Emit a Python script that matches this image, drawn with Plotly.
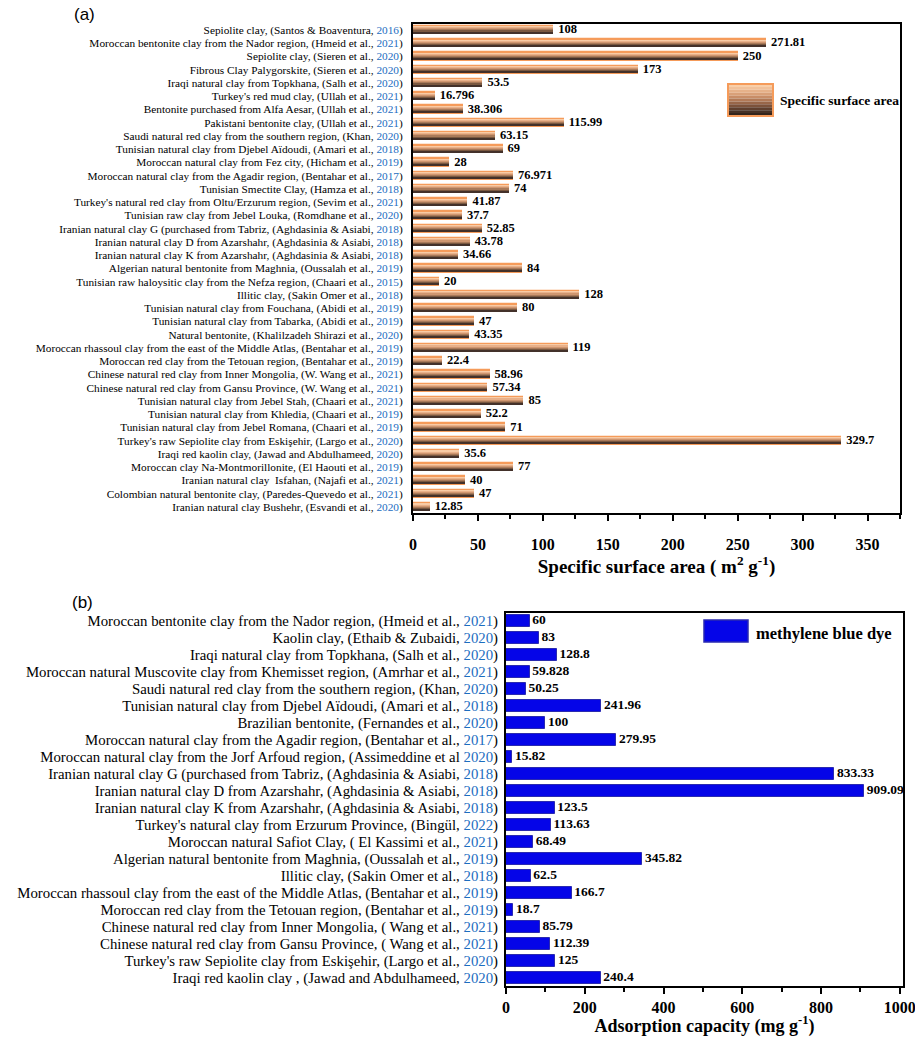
import plotly.graph_objects as go

# ---------------- Panel (a): specific surface area ----------------
names_a = [
    "Sepiolite clay, (Santos &amp; Boaventura, ",
    "Moroccan bentonite clay from the Nador region, (Hmeid et al., ",
    "Sepiolite clay, (Sieren et al., ",
    "Fibrous Clay Palygorskite, (Sieren et al., ",
    "Iraqi natural clay from Topkhana, (Salh et al., ",
    "Turkey's red mud clay, (Ullah et al., ",
    "Bentonite purchased from Alfa Aesar, (Ullah et al., ",
    "Pakistani bentonite clay, (Ullah et al., ",
    "Saudi natural red clay from the southern region, (Khan, ",
    "Tunisian natural clay from Djebel Aïdoudi, (Amari et al., ",
    "Moroccan natural clay from Fez city, (Hicham et al., ",
    "Moroccan natural clay from the Agadir region, (Bentahar et al., ",
    "Tunisian Smectite Clay, (Hamza et al., ",
    "Turkey's natural red clay from Oltu/Erzurum region, (Sevim et al., ",
    "Tunisian raw clay from Jebel Louka, (Romdhane et al., ",
    "Iranian natural clay G (purchased from Tabriz, (Aghdasinia &amp; Asiabi, ",
    "Iranian natural clay D from Azarshahr, (Aghdasinia &amp; Asiabi, ",
    "Iranian natural clay K from Azarshahr, (Aghdasinia &amp; Asiabi, ",
    "Algerian natural bentonite from Maghnia, (Oussalah et al., ",
    "Tunisian raw haloysitic clay from the Nefza region, (Chaari et al., ",
    "Illitic clay, (Sakin Omer et al., ",
    "Tunisian natural clay from Fouchana, (Abidi et al., ",
    "Tunisian natural clay from Tabarka, (Abidi et al., ",
    "Natural bentonite, (Khalilzadeh Shirazi et al., ",
    "Moroccan rhassoul clay from the east of the Middle Atlas, (Bentahar et al., ",
    "Moroccan red clay from the Tetouan region, (Bentahar et al., ",
    "Chinese natural red clay from Inner Mongolia, (W. Wang et al., ",
    "Chinese natural red clay from Gansu Province, (W. Wang et al., ",
    "Tunisian natural clay from Jebel Stah, (Chaari et al., ",
    "Tunisian natural clay from Khledia, (Chaari et al., ",
    "Tunisian natural clay from Jebel Romana, (Chaari et al., ",
    "Turkey's raw Sepiolite clay from Eskişehir, (Largo et al., ",
    "Iraqi red kaolin clay, (Jawad and Abdulhameed, ",
    "Moroccan clay Na-Montmorillonite, (El Haouti et al., ",
    "Iranian natural clay  Isfahan, (Najafi et al., ",
    "Colombian natural bentonite clay, (Paredes-Quevedo et al., ",
    "Iranian natural clay Bushehr, (Esvandi et al., ",
]
years_a = [2016, 2021, 2020, 2020, 2020, 2021, 2021, 2021, 2020, 2018, 2019, 2017,
           2018, 2021, 2020, 2018, 2018, 2018, 2019, 2015, 2018, 2019, 2019, 2020,
           2019, 2019, 2021, 2021, 2021, 2019, 2019, 2020, 2020, 2019, 2021, 2021, 2020]
values_a = [108, 271.81, 250, 173, 53.5, 16.796, 38.306, 115.99, 63.15, 69, 28, 76.971,
            74, 41.87, 37.7, 52.85, 43.78, 34.66, 84, 20, 128, 80, 47, 43.35,
            119, 22.4, 58.96, 57.34, 85, 52.2, 71, 329.7, 35.6, 77, 40, 47, 12.85]
text_a = ["108", "271.81", "250", "173", "53.5", "16.796", "38.306", "115.99", "63.15", "69",
          "28", "76.971", "74", "41.87", "37.7", "52.85", "43.78", "34.66", "84", "20", "128",
          "80", "47", "43.35", "119", "22.4", "58.96", "57.34", "85", "52.2", "71", "329.7",
          "35.6", "77", "40", "47", "12.85"]

# ---------------- Panel (b): methylene blue adsorption ----------------
names_b = [
    "Moroccan bentonite clay from the Nador region, (Hmeid et al., ",
    "Kaolin clay, (Ethaib &amp; Zubaidi, ",
    "Iraqi natural clay from Topkhana, (Salh et al., ",
    "Moroccan natural Muscovite clay from Khemisset region, (Amrhar et al., ",
    "Saudi natural red clay from the southern region, (Khan, ",
    "Tunisian natural clay from Djebel Aïdoudi, (Amari et al., ",
    "Brazilian bentonite, (Fernandes et al., ",
    "Moroccan natural clay from the Agadir region, (Bentahar et al., ",
    "Moroccan natural clay from the Jorf Arfoud region, (Assimeddine et al ",
    "Iranian natural clay G (purchased from Tabriz, (Aghdasinia &amp; Asiabi, ",
    "Iranian natural clay D from Azarshahr, (Aghdasinia &amp; Asiabi, ",
    "Iranian natural clay K from Azarshahr, (Aghdasinia &amp; Asiabi, ",
    "Turkey's natural clay from Erzurum Province, (Bingül, ",
    "Moroccan natural Safiot Clay, ( El Kassimi et al., ",
    "Algerian natural bentonite from Maghnia, (Oussalah et al., ",
    "Illitic clay, (Sakin Omer et al., ",
    "Moroccan rhassoul clay from the east of the Middle Atlas, (Bentahar et al., ",
    "Moroccan red clay from the Tetouan region, (Bentahar et al., ",
    "Chinese natural red clay from Inner Mongolia, ( Wang et al., ",
    "Chinese natural red clay from Gansu Province, ( Wang et al., ",
    "Turkey's raw Sepiolite clay from Eskişehir, (Largo et al., ",
    "Iraqi red kaolin clay , (Jawad and Abdulhameed, ",
]
years_b = [2021, 2020, 2020, 2021, 2020, 2018, 2020, 2017, 2020, 2018, 2018, 2018,
           2022, 2021, 2019, 2018, 2019, 2019, 2021, 2021, 2020, 2020]
values_b = [60, 83, 128.8, 59.828, 50.25, 241.96, 100, 279.95, 15.82, 833.33, 909.09,
            123.5, 113.63, 68.49, 345.82, 62.5, 166.7, 18.7, 85.79, 112.39, 125, 240.4]
text_b = ["60", "83", "128.8", "59.828", "50.25", "241.96", "100", "279.95", "15.82",
          "833.33", "909.09", "123.5", "113.63", "68.49", "345.82", "62.5", "166.7",
          "18.7", "85.79", "112.39", "125", "240.4"]

YEAR_COLOR = "#1c6dbf"
SERIF = "Liberation Serif"
GAP = "\u2009"

def make_ticks(names, years):
    return [f"{n}<span style='color:{YEAR_COLOR}'>{y}</span>)" for n, y in zip(names, years)]

cats_a = [f"a{i}" for i in range(len(names_a))]
cats_b = [f"b{i}" for i in range(len(names_b))]
ticks_a = make_ticks(names_a, years_a)
ticks_b = make_ticks(names_b, years_b)

W, H = 915, 1037

fig = go.Figure()

# panel (a) bars: orange outer bar + gradient stripes
fig.add_trace(go.Bar(x=values_a, y=cats_a, orientation="h", width=0.62,
                     marker=dict(color="#f59b5a", line=dict(color="#f59b5a", width=1.2)),
                     xaxis="x", yaxis="y", showlegend=False, hoverinfo="skip"))
stripe_colors = ["#f8cba5", "#e8b089", "#cf966f", "#a97a5a", "#7a5840", "#43312a"]
sw = 0.46 / len(stripe_colors)
for i, c in enumerate(stripe_colors):
    fig.add_trace(go.Bar(x=values_a, y=cats_a, orientation="h", width=sw,
                         offset=-0.23 + i * sw,
                         marker=dict(color=c, line=dict(width=0)),
                         xaxis="x", yaxis="y", showlegend=False, hoverinfo="skip"))
fig.add_trace(go.Scatter(x=values_a, y=cats_a, mode="text", text=[GAP + GAP + t for t in text_a],
                         textposition="middle right",
                         textfont=dict(family=SERIF, size=12.5, color="black", weight="bold"),
                         xaxis="x", yaxis="y", showlegend=False, cliponaxis=False,
                         hoverinfo="skip"))

# panel (b) bars
fig.add_trace(go.Bar(x=values_b, y=cats_b, orientation="h", width=0.76,
                     marker=dict(color="#0505e8", line=dict(color="#2a2ab0", width=1)),
                     xaxis="x2", yaxis="y2", showlegend=False, hoverinfo="skip"))
fig.add_trace(go.Scatter(x=values_b, y=cats_b, mode="text", text=[GAP + t for t in text_b],
                         textposition="middle right",
                         textfont=dict(family=SERIF, size=13.5, color="black", weight="bold"),
                         xaxis="x2", yaxis="y2", showlegend=False, cliponaxis=False,
                         hoverinfo="skip"))

def px(x0, x1):
    return [x0 / W, x1 / W]

def py(top, bottom):
    return [1 - bottom / H, 1 - top / H]

axis_common = dict(showline=True, linecolor="black", linewidth=2, mirror=True,
                   showgrid=False, zeroline=False)

fig.update_layout(
    width=W, height=H,
    margin=dict(l=0, r=0, t=0, b=0),
    paper_bgcolor="white", plot_bgcolor="white",
    barmode="overlay",
    bargap=0,
    xaxis=dict(domain=px(413, 900), range=[0, 375], dtick=50, ticks="outside",
               ticklen=6, tickwidth=2, tickcolor="black",
               minor=dict(dtick=25, ticks="outside", ticklen=4, tickwidth=1.5, tickcolor="black"),
               ticklabelstandoff=10, ticklabeloverflow="allow",
               tickfont=dict(family=SERIF, size=16, color="black", weight="bold"),
               title=dict(text="Specific surface area ( m<sup>2</sup> g<sup>-1</sup>)",
                          font=dict(family=SERIF, size=19, color="black", weight="bold"),
                          standoff=5),
               anchor="y", automargin=False, **axis_common),
    yaxis=dict(domain=py(24, 513), type="category", categoryarray=cats_a,
               tickvals=cats_a, ticktext=ticks_a,
               range=[len(cats_a) - 1 + 0.45, -0.45], ticks="",
               ticklabelstandoff=6,
               tickfont=dict(family=SERIF, size=11.3, color="black"),
               anchor="x", automargin=False, **axis_common),
    xaxis2=dict(domain=px(506, 903), range=[0, 1008], dtick=200, ticks="outside",
                ticklen=6, tickwidth=2, tickcolor="black",
                minor=dict(dtick=100, ticks="outside", ticklen=4, tickwidth=1.5, tickcolor="black"),
                ticklabeloverflow="allow",
                tickfont=dict(family=SERIF, size=16, color="black", weight="bold"),
                title=dict(text="Adsorption capacity (mg g<sup>-1</sup>)",
                           font=dict(family=SERIF, size=18, color="black", weight="bold"),
                           standoff=3),
                anchor="y2", automargin=False, **axis_common),
    yaxis2=dict(domain=py(613, 986), type="category", categoryarray=cats_b,
                tickvals=cats_b, ticktext=ticks_b,
                range=[len(cats_b) - 1 + 0.47, -0.47], ticks="",
                ticklabelstandoff=3,
                tickfont=dict(family=SERIF, size=14.8, color="black"),
                anchor="x2", automargin=False, **axis_common),
)

shapes = []
# legend (a): gradient swatch
lx0, lx1, ly0, ly1 = 728, 773, 84, 116
legend_grad = ["#f9cfa9", "#f1c19a", "#e6b189", "#d9a078", "#c88d67", "#b27a57",
               "#986648", "#7c523a", "#5f3f2d", "#463024", "#33241b"]
n = len(legend_grad)
for i, c in enumerate(legend_grad):
    t = ly0 + (ly1 - ly0) * i / n
    b = ly0 + (ly1 - ly0) * (i + 1) / n
    shapes.append(dict(type="rect", xref="paper", yref="paper",
                       x0=lx0 / W, x1=lx1 / W, y0=1 - b / H, y1=1 - t / H,
                       fillcolor=c, line=dict(width=0)))
shapes.append(dict(type="rect", xref="paper", yref="paper",
                   x0=lx0 / W, x1=lx1 / W, y0=1 - ly1 / H, y1=1 - ly0 / H,
                   fillcolor="rgba(0,0,0,0)", line=dict(color="#f59b5a", width=2)))
# legend (b)
shapes.append(dict(type="rect", xref="paper", yref="paper",
                   x0=704 / W, x1=748 / W, y0=1 - 642 / H, y1=1 - 620 / H,
                   fillcolor="#0505e8", line=dict(color="#2a2ab0", width=1.5)))

annotations = [
    dict(text="Specific surface area", x=778 / W, y=1 - 101 / H, xref="paper", yref="paper",
         xanchor="left", yanchor="middle", showarrow=False,
         font=dict(family=SERIF, size=13.5, color="black", weight="bold")),
    dict(text="methylene blue dye", x=754 / W, y=1 - 633 / H, xref="paper", yref="paper",
         xanchor="left", yanchor="middle", showarrow=False,
         font=dict(family=SERIF, size=16.5, color="black", weight="bold")),
    dict(text="(a)", x=72 / W, y=1 - 14 / H, xref="paper", yref="paper",
         xanchor="left", yanchor="middle", showarrow=False,
         font=dict(family="Liberation Sans", size=17, color="black")),
    dict(text="(b)", x=70 / W, y=1 - 602 / H, xref="paper", yref="paper",
         xanchor="left", yanchor="middle", showarrow=False,
         font=dict(family="Liberation Sans", size=17, color="black")),
]
fig.update_layout(shapes=shapes, annotations=annotations)

fig.write_html("out.html", config={"displayModeBar": False},
               post_script="document.body.style.margin='0px';")
